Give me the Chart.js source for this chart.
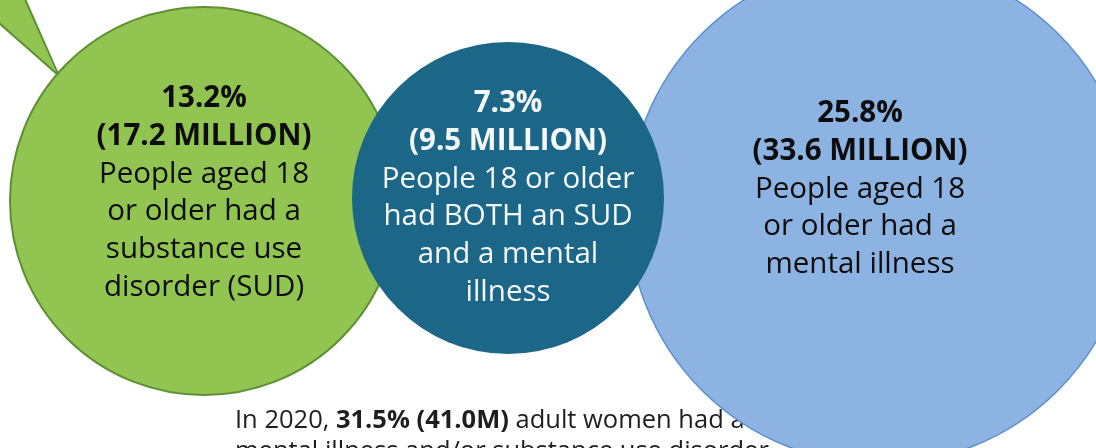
<!DOCTYPE html>
<html>
<head>
<meta charset="utf-8">
<script src="https://cdn.jsdelivr.net/npm/chart.js@4/dist/chart.umd.min.js"></script>
<style>
  html, body { margin: 0; padding: 0; background: #ffffff; }
  canvas { display: block; }
</style>
</head>
<body>
<canvas id="c" width="1096" height="448"></canvas>
<script>
// ---- data ----
const categories = ['Substance use disorder', 'Both SUD and mental illness', 'Mental illness'];
const percentValues = [13.2, 7.3, 25.8];
const millionValues = [17.2, 9.5, 33.6];
const descriptions = [
  ['People aged 18', 'or older had a', 'substance use', 'disorder (SUD)'],
  ['People 18 or older', 'had BOTH an SUD', 'and a mental', 'illness'],
  ['People aged 18', 'or older had a', 'mental illness']
];
const footnoteYear = '2020';
const footnotePercent = 31.5;
const footnoteMillions = 41.0;
const footnoteRest = ' adult women had a';
const footnoteLine2 = 'mental illness and/or substance use disorder';

// ---- layout / styles (not data) ----
const layout = [
  { x: 204, y: 201, r: 194, fill: '#92c452', border: '#5f8f33', bw: 2, text: '#0d0d0d', dx: 0,   firstBase: -94 },
  { x: 508, y: 198, r: 156, fill: '#1c6687', border: '#1c6687', bw: 0, text: '#f4f8fa', dx: 0,   firstBase: -86 },
  { x: 880, y: 212, r: 252, fill: '#8db3e2', border: '#5f8fcc', bw: 1.5, text: '#0d0d0d', dx: -20, firstBase: -90 }
];
const drawOrder = [0, 2, 1]; // green, blue, then teal on top
const FONT = '"Open Sans", "Noto Sans", sans-serif';
const LINE_H = 37.8;

const points = drawOrder.map(i => ({ x: layout[i].x, y: layout[i].y, r: layout[i].r, idx: i }));

const tailPlugin = {
  id: 'tail',
  beforeDatasetsDraw(chart) {
    const ctx = chart.ctx;
    ctx.save();
    ctx.beginPath();
    ctx.moveTo(57, 75);
    ctx.lineTo(-1, 23);
    ctx.lineTo(-1, -1);
    ctx.lineTo(25, -1);
    ctx.closePath();
    ctx.fillStyle = layout[0].fill;
    ctx.fill();
    ctx.beginPath();
    ctx.moveTo(-1, 23); ctx.lineTo(57, 74);
    ctx.moveTo(25, -1); ctx.lineTo(58, 74);
    ctx.strokeStyle = layout[0].border;
    ctx.lineWidth = 2;
    ctx.stroke();
    ctx.restore();

    // footnote (drawn below the circles)
    ctx.save();
    ctx.fillStyle = '#1e1e1e';
    ctx.textBaseline = 'alphabetic';
    ctx.textAlign = 'left';
    let x = 235, y = 428;
    const parts = [
      { t: 'In ' + footnoteYear + ', ', b: false },
      { t: footnotePercent.toFixed(1) + '% (' + footnoteMillions.toFixed(1) + 'M)', b: true },
      { t: footnoteRest, b: false }
    ];
    parts.forEach(p => {
      ctx.font = (p.b ? 'bold ' : '') + '25.5px ' + FONT;
      ctx.fillText(p.t, x, y);
      x += ctx.measureText(p.t).width;
    });
    ctx.font = '25.5px ' + FONT;
    ctx.fillText(footnoteLine2, 235, 459);
    ctx.restore();
  }
};

const labelPlugin = {
  id: 'labels',
  afterDatasetsDraw(chart) {
    const ctx = chart.ctx;
    const meta = chart.getDatasetMeta(0);
    ctx.save();
    ctx.textAlign = 'center';
    ctx.textBaseline = 'alphabetic';
    meta.data.forEach((el, k) => {
      const i = points[k].idx;
      const L = layout[i];
      const lines = [
        { t: percentValues[i].toFixed(1) + '%', b: true },
        { t: '(' + millionValues[i].toFixed(1) + ' MILLION)', b: true }
      ].concat(descriptions[i].map(t => ({ t, b: false })));
      ctx.fillStyle = L.text;
      lines.forEach((ln, j) => {
        ctx.font = (ln.b ? 'bold ' : '') + '29.5px ' + FONT;
        ctx.fillText(ln.t, el.x + L.dx, el.y + L.firstBase + j * LINE_H);
      });
    });
    ctx.restore();
  }
};

new Chart(document.getElementById('c'), {
  type: 'bubble',
  data: {
    labels: drawOrder.map(i => categories[i]),
    datasets: [{
      label: 'Adults 18+',
      data: points,
      backgroundColor: drawOrder.map(i => layout[i].fill),
      borderColor: drawOrder.map(i => layout[i].border),
      borderWidth: drawOrder.map(i => layout[i].bw),
      hoverRadius: 0,
      clip: false
    }]
  },
  options: {
    responsive: false,
    animation: false,
    events: [],
    layout: { padding: 0, autoPadding: false },
    plugins: { legend: { display: false }, tooltip: { enabled: false } },
    scales: {
      x: { type: 'linear', min: 0, max: 1096, display: false },
      y: { type: 'linear', min: 0, max: 448, reverse: true, display: false }
    }
  },
  plugins: [tailPlugin, labelPlugin]
});
</script>
</body>
</html>
